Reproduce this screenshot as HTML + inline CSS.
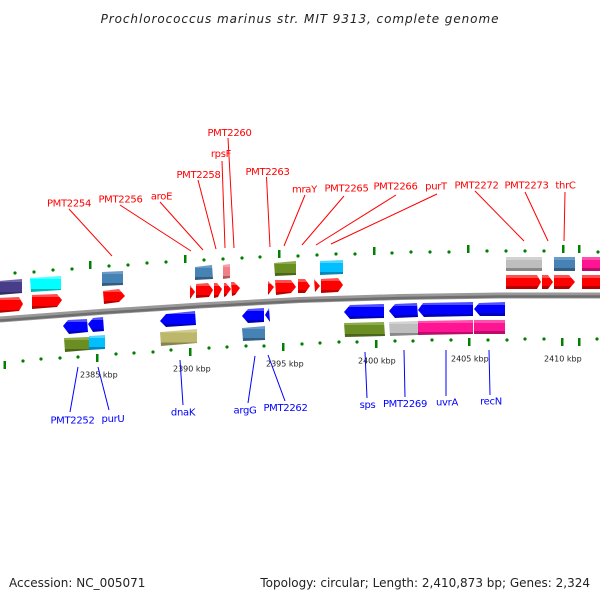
<!DOCTYPE html>
<html><head><meta charset="utf-8"><style>
html,body{margin:0;padding:0;background:#fff}
svg{display:block}
text{font-family:"DejaVu Sans",sans-serif}
.r{font-size:10px;fill:#f00;text-anchor:middle;letter-spacing:-.3px}
.b{font-size:10px;fill:#00f;text-anchor:middle;letter-spacing:-.3px}
.k{font-size:8px;fill:#222}
.m{font-size:12px;fill:#222}
</style></head><body>
<svg width="600" height="600" viewBox="0 0 600 600" xmlns="http://www.w3.org/2000/svg">
<defs>
<linearGradient id="red" x1="0" y1="0" x2="0" y2="1"><stop offset="0" stop-color="#ff5050"/><stop offset=".2" stop-color="#ff5050"/><stop offset=".2" stop-color="#f00"/><stop offset=".8" stop-color="#f00"/><stop offset=".8" stop-color="#b80000"/><stop offset="1" stop-color="#b80000"/></linearGradient>
<linearGradient id="blu" x1="0" y1="0" x2="0" y2="1"><stop offset="0" stop-color="#5050ff"/><stop offset=".2" stop-color="#5050ff"/><stop offset=".2" stop-color="#00f"/><stop offset=".8" stop-color="#00f"/><stop offset=".8" stop-color="#0000b8"/><stop offset="1" stop-color="#0000b8"/></linearGradient>
<linearGradient id="ste" x1="0" y1="0" x2="0" y2="1"><stop offset="0" stop-color="#6a9cc8"/><stop offset=".2" stop-color="#6a9cc8"/><stop offset=".2" stop-color="#4682b4"/><stop offset=".8" stop-color="#4682b4"/><stop offset=".8" stop-color="#325d81"/><stop offset="1" stop-color="#325d81"/></linearGradient>
<linearGradient id="oli" x1="0" y1="0" x2="0" y2="1"><stop offset="0" stop-color="#8bab4c"/><stop offset=".2" stop-color="#8bab4c"/><stop offset=".2" stop-color="#6b8e23"/><stop offset=".8" stop-color="#6b8e23"/><stop offset=".8" stop-color="#4c6619"/><stop offset="1" stop-color="#4c6619"/></linearGradient>
<linearGradient id="cya" x1="0" y1="0" x2="0" y2="1"><stop offset="0" stop-color="#50ffff"/><stop offset=".2" stop-color="#50ffff"/><stop offset=".2" stop-color="#0ff"/><stop offset=".8" stop-color="#0ff"/><stop offset=".8" stop-color="#00b8b8"/><stop offset="1" stop-color="#00b8b8"/></linearGradient>
<linearGradient id="sky" x1="0" y1="0" x2="0" y2="1"><stop offset="0" stop-color="#50d5ff"/><stop offset=".2" stop-color="#50d5ff"/><stop offset=".2" stop-color="#00bfff"/><stop offset=".8" stop-color="#00bfff"/><stop offset=".8" stop-color="#0089b8"/><stop offset="1" stop-color="#0089b8"/></linearGradient>
<linearGradient id="pur" x1="0" y1="0" x2="0" y2="1"><stop offset="0" stop-color="#7066a8"/><stop offset=".2" stop-color="#7066a8"/><stop offset=".2" stop-color="#483d8b"/><stop offset=".8" stop-color="#483d8b"/><stop offset=".8" stop-color="#342c64"/><stop offset="1" stop-color="#342c64"/></linearGradient>
<linearGradient id="kha" x1="0" y1="0" x2="0" y2="1"><stop offset="0" stop-color="#d0cc90"/><stop offset=".2" stop-color="#d0cc90"/><stop offset=".2" stop-color="#bdb76b"/><stop offset=".8" stop-color="#bdb76b"/><stop offset=".8" stop-color="#88844d"/><stop offset="1" stop-color="#88844d"/></linearGradient>
<linearGradient id="gry" x1="0" y1="0" x2="0" y2="1"><stop offset="0" stop-color="#d2d2d2"/><stop offset=".2" stop-color="#d2d2d2"/><stop offset=".2" stop-color="#bebebe"/><stop offset=".8" stop-color="#bebebe"/><stop offset=".8" stop-color="#898989"/><stop offset="1" stop-color="#898989"/></linearGradient>
<linearGradient id="pnk" x1="0" y1="0" x2="0" y2="1"><stop offset="0" stop-color="#ff50ad"/><stop offset=".2" stop-color="#ff50ad"/><stop offset=".2" stop-color="#ff1493"/><stop offset=".8" stop-color="#ff1493"/><stop offset=".8" stop-color="#b80e6a"/><stop offset="1" stop-color="#b80e6a"/></linearGradient>
<linearGradient id="lpk" x1="0" y1="0" x2="0" y2="1"><stop offset="0" stop-color="#f8a0a8"/><stop offset=".2" stop-color="#f8a0a8"/><stop offset=".2" stop-color="#f08088"/><stop offset=".8" stop-color="#f08088"/><stop offset=".8" stop-color="#ad5c62"/><stop offset="1" stop-color="#ad5c62"/></linearGradient>
</defs>

<text x="300" y="23" text-anchor="middle" style="font-size:12px;font-style:italic;fill:#222;letter-spacing:.93px">Prochlorococcus marinus str. MIT 9313, complete genome</text>

<!-- backbone -->
<path d="M0 319.5L100 312L200 305.5L300 300L400 297L500 295.5L600 295.5" fill="none" stroke="#999" stroke-width="6"/>
<path d="M0 320.500L100 313L200 306.5L300 301L400 298L500 296.500L600 296.500" fill="none" stroke="#6e6e6e" stroke-width="2.500"/>

<!-- ticks -->
<g fill="#008000">
<circle cx="-4" cy="274" r="1.6"/><circle cx="15" cy="273" r="1.6"/><circle cx="34" cy="272" r="1.6"/><circle cx="53" cy="270" r="1.6"/><circle cx="72" cy="269" r="1.6"/><circle cx="109" cy="266" r="1.6"/><circle cx="128" cy="265" r="1.6"/><circle cx="147" cy="263" r="1.6"/><circle cx="166" cy="262" r="1.6"/><circle cx="204" cy="260" r="1.6"/><circle cx="223" cy="259" r="1.6"/><circle cx="242" cy="258" r="1.6"/><circle cx="260" cy="257" r="1.6"/><circle cx="298" cy="256" r="1.6"/><circle cx="317" cy="255" r="1.6"/><circle cx="336" cy="254" r="1.6"/><circle cx="355" cy="254" r="1.6"/><circle cx="392" cy="253" r="1.6"/><circle cx="411" cy="252" r="1.6"/><circle cx="430" cy="252" r="1.6"/><circle cx="449" cy="252" r="1.6"/><circle cx="487" cy="251" r="1.6"/><circle cx="506" cy="251" r="1.6"/><circle cx="525" cy="251" r="1.6"/><circle cx="544" cy="251" r="1.6"/><circle cx="598" cy="252" r="1.6"/>
<circle cx="23" cy="361" r="1.6"/><circle cx="41" cy="359" r="1.6"/><circle cx="60" cy="358" r="1.6"/><circle cx="78" cy="357" r="1.6"/><circle cx="116" cy="354" r="1.6"/><circle cx="134" cy="353" r="1.6"/><circle cx="153" cy="352" r="1.6"/><circle cx="171" cy="350" r="1.6"/><circle cx="209" cy="348" r="1.6"/><circle cx="227" cy="347" r="1.6"/><circle cx="246" cy="346" r="1.6"/><circle cx="264" cy="346" r="1.6"/><circle cx="302" cy="344" r="1.6"/><circle cx="320" cy="343" r="1.6"/><circle cx="339" cy="342" r="1.6"/><circle cx="357" cy="342" r="1.6"/><circle cx="395" cy="341" r="1.6"/><circle cx="413" cy="341" r="1.6"/><circle cx="432" cy="340" r="1.6"/><circle cx="451" cy="340" r="1.6"/><circle cx="488" cy="340" r="1.6"/><circle cx="507" cy="340" r="1.6"/><circle cx="525" cy="339" r="1.6"/><circle cx="544" cy="339" r="1.6"/><circle cx="597" cy="339" r="1.6"/>
<rect x="89" y="261" width="2.500" height="8"/><rect x="184" y="255" width="2.500" height="8"/><rect x="278" y="250" width="2.500" height="8"/><rect x="373" y="247" width="2.500" height="8"/><rect x="467" y="245" width="2.500" height="8"/><rect x="562" y="245" width="2.500" height="8"/><rect x="578" y="245" width="2.500" height="8"/>
<rect x="3.500" y="361" width="2.500" height="8"/><rect x="96" y="354" width="2.500" height="8"/><rect x="189" y="348" width="2.500" height="8"/><rect x="282" y="343" width="2.500" height="8"/><rect x="375" y="340" width="2.500" height="8"/><rect x="468" y="338" width="2.500" height="8"/><rect x="561" y="338" width="2.500" height="8"/><rect x="578" y="338" width="2.500" height="8"/>
</g>

<!-- upper boxes -->
<polygon fill="url(#pur)" points="-2,281 22,279 22,293 -2,295"/>
<polygon fill="url(#cya)" points="30,278 61,276 61,290 31,292"/>
<polygon fill="url(#ste)" points="102,272 123,271 123,285 102,286"/>
<polygon fill="url(#ste)" points="195,267 212,265 213,279 195,280"/>
<polygon fill="url(#lpk)" points="223,265 230,264 230,278 223,279"/>
<polygon fill="url(#oli)" points="274,263 296,261 296,275 275,276"/>
<polygon fill="url(#sky)" points="320,261 343,260 343,274 320,275"/>
<polygon fill="url(#gry)" points="506,257 542,257 542,271 506,271"/>
<polygon fill="url(#ste)" points="554,257 575,257 575,271 554,271"/>
<polygon fill="url(#pnk)" points="582,257 601,257 601,271 582,271"/>

<!-- upper arrows -->
<g fill="url(#red)">
<polygon points="-2,298 19,297 23,304 19,311 -2,313"/>
<polygon points="32,295 57,294 62,300 57,307 32,309"/>
<polygon points="103,291 119,289 125,296 119,302 104,304"/>
<polygon points="190,285 195,292 190,299"/>
<polygon points="196,284 208,283 213,290 209,297 196,298"/>
<polygon points="214,283 217,283 222,289 218,297 214,298"/>
<polygon points="224,283 226,283 231,289 226,296 224,297"/>
<polygon points="231,282 234,282 240,288 235,295 232,296"/>
<polygon points="268,281 274,287 268,295"/>
<polygon points="275,280 291,280 296,287 291,293 276,295"/>
<polygon points="298,279 305,279 310,286 305,293 298,293"/>
<polygon points="314,279 320,286 315,292"/>
<polygon points="321,279 338,278 343,285 338,292 321,293"/>
<polygon points="506,275 537,275 541,282 537,289 506,289"/>
<polygon points="542,275 548,275 553,282 548,289 542,289"/>
<polygon points="554,275 569,275 575,282 569,289 554,289"/>
<polygon points="582,275 601,275 601,289 582,289"/>
</g>

<!-- lower arrows -->
<g fill="url(#blu)">
<polygon points="63,326 68,320 87,319 88,332 69,334"/>
<polygon points="88,324 93,318 103,317 104,331 93,332"/>
<polygon points="160,321 166,314 195,311 196,325 166,327"/>
<polygon points="242,316 248,309 264,308 264,322 248,323"/>
<polygon points="265,315 269,308 270,322"/>
<polygon points="344,312 350,305 384,304 384,318 350,319"/>
<polygon points="389,311 395,304 417,303 418,317 395,318"/>
<polygon points="418,310 423,303 473,302 473,316 424,317"/>
<polygon points="474,309 479,303 505,302 505,316 480,316"/>
</g>

<!-- lower boxes -->
<polygon fill="url(#oli)" points="64,338 89,337 89,350 65,352"/>
<polygon fill="url(#sky)" points="89,336 105,335 105,349 89,350"/>
<polygon fill="url(#kha)" points="160,332 197,329 197,343 161,346"/>
<polygon fill="url(#ste)" points="242,328 265,326 265,340 243,341"/>
<polygon fill="url(#oli)" points="344,323 384,322 385,336 345,337"/>
<polygon fill="url(#gry)" points="389,322 418,321 418,335 390,336"/>
<polygon fill="url(#pnk)" points="418,321 473,320 473,334 418,335"/>
<polygon fill="url(#pnk)" points="474,320 505,320 505,334 474,334"/>

<!-- connectors -->
<g stroke="#f00" stroke-width="1" fill="none">
<path d="M69 209L112 256M120 205L191 251M160 202L203 250M198 180L216 249M222 161L225 248M228 138L234 248M266.500 177L270 247M305 195L284 246M344 196L302 245M396 195L316 245M437 194L331 244M475 191L524 241M525 192L548 241M565 192L564 241"/>
</g>
<g stroke="#00f" stroke-width="1" fill="none">
<path d="M78 367L70 412M98 367L109 410M180 360L183 405M255 356L248 403M268 355L285 401M365 352L367 398M404 350L405 397M446 350L446 396M489 350L490 395"/>
</g>

<!-- labels -->
<g transform="translate(0,-.5)">
<text class="r" x="69" y="207">PMT2254</text>
<text class="r" x="120.500" y="203">PMT2256</text>
<text class="r" x="161.500" y="200">aroE</text>
<text class="r" x="198.500" y="178.500">PMT2258</text>
<text class="r" x="221" y="157.500">rpsF</text>
<text class="r" x="229.500" y="136.500">PMT2260</text>
<text class="r" x="267.500" y="175.500">PMT2263</text>
<text class="r" x="304.500" y="193">mraY</text>
<text class="r" x="346.500" y="192">PMT2265</text>
<text class="r" x="395.500" y="190">PMT2266</text>
<text class="r" x="436" y="190">purT</text>
<text class="r" x="476.500" y="189">PMT2272</text>
<text class="r" x="526.500" y="189">PMT2273</text>
<text class="r" x="565.500" y="189">thrC</text>

<text class="b" x="72.500" y="424">PMT2252</text>
<text class="b" x="113" y="422.500">purU</text>
<text class="b" x="183" y="416">dnaK</text>
<text class="b" x="245" y="414">argG</text>
<text class="b" x="285.500" y="411.500">PMT2262</text>
<text class="b" x="367.500" y="408.500">sps</text>
<text class="b" x="405" y="407.500">PMT2269</text>
<text class="b" x="447" y="406">uvrA</text>
<text class="b" x="491" y="405">recN</text>

<text class="k" x="80" y="378">2385 kbp</text>
<text class="k" x="173" y="372">2390 kbp</text>
<text class="k" x="266" y="367">2395 kbp</text>
<text class="k" x="358" y="364">2400 kbp</text>
<text class="k" x="451" y="362">2405 kbp</text>
<text class="k" x="544" y="362">2410 kbp</text>
</g>

<text class="m" x="9" y="587">Accession: NC_005071</text>
<text class="m" x="590" y="587" text-anchor="end">Topology: circular; Length: 2,410,873 bp; Genes: 2,324</text>
</svg>
</body></html>
